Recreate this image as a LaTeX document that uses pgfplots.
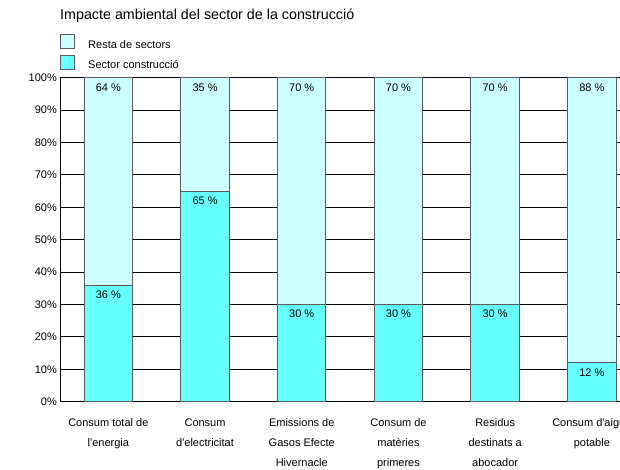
\documentclass[border=0pt]{standalone}
\usepackage{fontspec}
\setmainfont{Liberation Sans}
\usepackage{pgfplots}
\pgfplotsset{compat=1.18}
\definecolor{resta}{HTML}{CCFFFF}
\definecolor{constr}{HTML}{66FFFF}
\definecolor{edge}{HTML}{5A5A5A}
\begin{document}
\begin{tikzpicture}
\begin{scope}
\clip (0pt,0pt) rectangle (620pt,-470pt);
\begin{axis}[
  at={(60pt,-401.7pt)}, anchor=south west,
  scale only axis, width=580.2pt, height=324pt,
  xmin=-0.5, xmax=5.5, ymin=0, ymax=100,
  ybar stacked, bar width=0.5,
  axis x line*=bottom, axis y line*=left,
  axis line style={black, line width=1pt},
  ymajorgrids, major grid style={black, line width=1pt},
  ytick={0,10,...,100},
  yticklabel={\pgfmathprintnumber{\tick}\%},
  /pgf/number format/assume math mode=true,
  major tick length=0pt,
  yticklabel style={font=\fontsize{11}{13}\selectfont, inner sep=0pt, xshift=-3pt},
  xtick={0,1,2,3,4,5},
  xticklabels={{Consum total de\\l\textquotesingle energia},{Consum\\d\textquotesingle electricitat},{Emissions de\\Gasos Efecte\\Hivernacle},{Consum de\\matèries\\primeres},{Residus\\destinats a\\abocador},{Consum d\textquotesingle aigua\\potable}},
  xticklabel style={font=\fontsize{11}{20}\selectfont, align=center, inner sep=0pt, anchor=north, yshift=-17pt},
  point meta=rawy,
  visualization depends on={rawy \as \segval},
  nodes near coords={\pgfmathprintnumber{\pgfplotspointmeta} \%},
  every node near coord/.append style={font=\fontsize{11}{13}\selectfont, inner sep=0pt, anchor=center, yshift={\segval*1.62pt-9.6pt}, black},
  title={Impacte ambiental del sector de la construcció},
  every axis title shift=0pt,
  title style={at={(rel axis cs:0,1)}, anchor=base west, yshift=58pt, inner sep=0pt, font=\fontsize{14.3}{17}\selectfont},
  reverse legend,
  legend image code/.code={\draw[#1, draw=edge, line width=1pt] (0pt,-4pt) rectangle (14pt,10pt);},
  legend style={at={(rel axis cs:0,1)}, anchor=north west, yshift=43.5pt, draw=none, fill=none,
    inner sep=0pt, row sep=5pt, font=\fontsize{11}{13}\selectfont, cells={anchor=west},
    nodes={inner sep=0pt},
    /tikz/every odd column/.append style={column sep=13pt}},
]
\addplot[fill=constr, draw=edge, line width=1pt] coordinates {(0,36) (1,65) (2,30) (3,30) (4,30) (5,12)};
\addlegendentry{Sector construcció}
\addplot[fill=resta, draw=edge, line width=1pt] coordinates {(0,64) (1,35) (2,70) (3,70) (4,70) (5,88)};
\addlegendentry{Resta de sectors}
\end{axis}
\end{scope}
\pgfresetboundingbox
\path[use as bounding box] (0pt,0pt) rectangle (620pt,-470pt);
\end{tikzpicture}
\end{document}
